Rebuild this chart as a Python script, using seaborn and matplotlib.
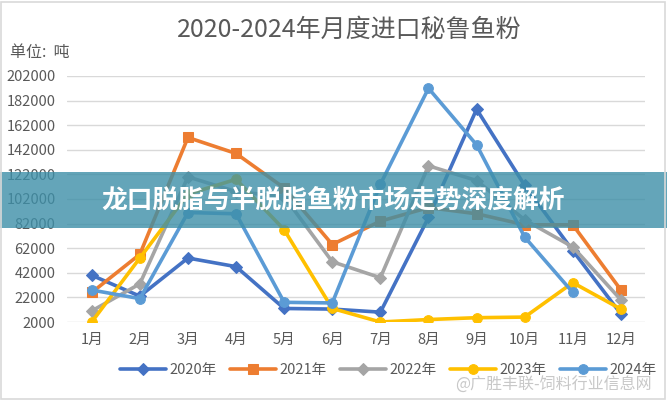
import matplotlib
matplotlib.use("Agg")
import matplotlib.pyplot as plt
import seaborn as sns
import pandas as pd
import numpy as np
from matplotlib.patches import Rectangle

months = ["1月", "2月", "3月", "4月", "5月", "6月", "7月", "8月", "9月", "10月", "11月", "12月"]
y2020 = [40000, 23000, 54000, 47000, 13000, 12500, 10000, 87000, 175000, 113000, 60000, 8500]
y2021 = [26000, 57000, 152000, 139000, 111000, 65000, 84000, 95000, 90000, 81000, 81000, 28000]
y2022 = [11000, 33000, 120000, 108000, 104000, 51000, 38000, 129000, 117000, 85000, 63000, 20000]
y2023 = [2000, 54000, 106000, 118000, 77000, 13000, 2000, 4000, 5500, 6000, 34000, 12500]
y2024 = [28000, 21000, 91000, 90000, 18000, 17500, 114000, 192000, 146000, 71000, 26000]
series_names = ["2020年", "2021年", "2022年", "2023年", "2024年"]
yticks = list(range(2000, 202001, 20000))

sns.set_theme(style="white")
plt.rcParams['font.family'] = ['Noto Sans CJK SC', 'DejaVu Sans']

colors = ["#4472C4", "#ED7D31", "#A5A5A5", "#FFC000", "#5B9BD5"]
markers = ["D", "s", "D", "o", "o"]
msizes = [6, 7, 6, 7, 7]
data = [y2020, y2021, y2022, y2023, y2024]

fig = plt.figure(figsize=(6.67, 4.0), dpi=100)
ax = fig.add_axes([0.100, 0.195, 0.867, 0.615])

for name, vals, c, m, ms in zip(series_names, data, colors, markers, msizes):
    df = pd.DataFrame({"x": np.arange(len(vals)), "y": vals})
    sns.lineplot(data=df, x="x", y="y", ax=ax, color=c, marker=m, markersize=ms,
                 markeredgecolor=c, linewidth=2.6, label=name, zorder=3)

ax.set_xlim(-0.52, 11.5)
ax.set_ylim(2000, 202000)
ax.set_yticks(yticks)
ax.set_yticklabels([str(v) for v in yticks])
ax.set_xticks(range(12))
ax.set_xticklabels(months)
ax.set_xlabel("")
ax.set_ylabel("")
ax.grid(axis="y", color="#D9D9D9", linewidth=1)
ax.set_axisbelow(True)
for s in ax.spines.values():
    s.set_visible(False)
ax.tick_params(axis="both", length=0, labelsize=10.5, labelcolor="#595959")
ax.tick_params(axis="y", pad=8)
ax.tick_params(axis="x", pad=8)

leg = ax.legend(loc="center", bbox_to_anchor=(388 / 667, 1 - 370 / 400),
                bbox_transform=fig.transFigure, ncol=5, frameon=False,
                fontsize=10.5, handlelength=3.2, columnspacing=0.9, handletextpad=0.2)
for t in leg.get_texts():
    t.set_color("#595959")

fig.text(349 / 667, 1 - 30 / 400, "2020-2024年月度进口秘鲁鱼粉", ha="center", va="center",
         fontsize=18, fontweight="medium", color="#595959")
fig.text(10 / 667, 1 - 52 / 400, "单位:  吨", ha="left", va="center",
         fontsize=11.5, color="#595959")

# banner overlay
fig.patches.append(Rectangle((0, 1 - 228 / 400), 1, 56 / 400, transform=fig.transFigure,
                             facecolor="#3d8fa8", alpha=0.8, edgecolor="none", zorder=10))
fig.text(333 / 667, 1 - 200 / 400, "龙口脱脂与半脱脂鱼粉市场走势深度解析", ha="center", va="center",
         fontsize=18.5, fontweight="bold", color="white", zorder=11)

# watermark
fig.text(652 / 667, 1 - 385 / 400, "@广胜丰联-饲料行业信息网", ha="right", va="center",
         fontsize=11.5, color="#C8C8C8", zorder=11)

# outer border
fig.patches.append(Rectangle((0.002, 0.003), 0.995, 0.993, transform=fig.transFigure,
                             facecolor="none", edgecolor="#D9D9D9", linewidth=1.2, zorder=12))

fig.savefig("out.png", dpi=100)
